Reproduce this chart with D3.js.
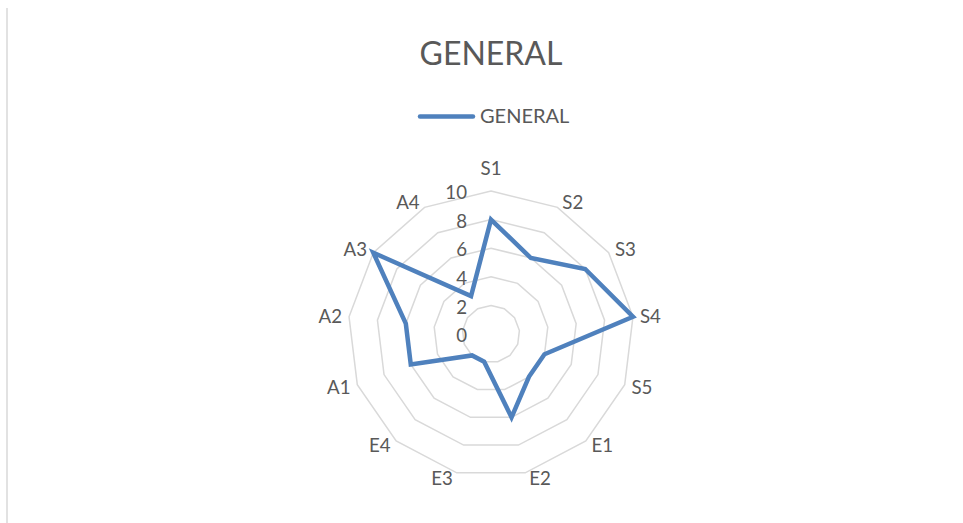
<!DOCTYPE html>
<html>
<head>
<meta charset="utf-8">
<script src="https://cdn.jsdelivr.net/npm/d3@7"></script>
<style>
  html, body { margin: 0; padding: 0; background: #fff; }
  svg { display: block; font-family: Lato, "Open Sans", sans-serif; }
</style>
</head>
<body>
<svg id="chart" width="963" height="523"></svg>
<script>
const categories = ["S1", "S2", "S3", "S4", "S5", "E1", "E2", "E3", "E4", "A1", "A2", "A3", "A4"];
const generalValues = [8, 6, 8, 10, 4, 4, 6, 2, 2, 6, 6, 10, 3];
const tickValues = [0, 2, 4, 6, 8, 10];
const seriesName = "GENERAL";
const chartTitle = "GENERAL";

const svg = d3.select("#chart");
const textColour = "#595959";
const lineColour = "#4f81bd";
const gridColour = "#d9d9d9";

// frame edge on the left, like the screenshot
svg.append("line")
    .attr("x1", 7).attr("x2", 7)
    .attr("y1", 8).attr("y2", 523)
    .attr("stroke", gridColour)
    .attr("stroke-width", 1.5);

const cx = 491, cy = 334, maxR = 143;

const r = d3.scaleLinear().domain([0, 10]).range([0, maxR]);
const angle = d3.scaleBand().domain(categories).range([0, 2 * Math.PI]).paddingInner(0).paddingOuter(0).align(0);

const chartArea = svg.append("g").attr("transform", `translate(${cx},${cy})`);

// rings
const ring = v => d3.lineRadial()
    .angle(c => angle(c))
    .radius(() => r(v))
    .curve(d3.curveLinearClosed)(categories);

chartArea.selectAll(".ring")
    .data(tickValues.filter(v => v > 0))
    .join("path")
    .attr("class", "ring")
    .attr("d", d => ring(d))
    .attr("fill", "none")
    .attr("stroke", gridColour)
    .attr("stroke-width", 1.5);

// radial tick labels along the first spoke
chartArea.selectAll(".tick-label")
    .data(tickValues)
    .join("text")
    .attr("class", "tick-label")
    .attr("x", -24)
    .attr("y", d => -r(d) + 1.5)
    .attr("dy", "0.36em")
    .attr("text-anchor", "end")
    .attr("fill", textColour)
    .style("font-size", "18.7px")
    .text(d => d);

// category labels
chartArea.selectAll(".cat-label")
    .data(categories)
    .join("text")
    .attr("class", "cat-label")
    .each(function (c) {
        const a = angle(c);
        const s = Math.sin(a), co = Math.cos(a);
        const vx = maxR * s, vy = -maxR * co;
        const t = d3.select(this);
        if (Math.abs(s) < 0.1) {
            t.attr("x", vx).attr("y", vy - 23).attr("text-anchor", "middle");
        } else {
            const gap = 3 + 4 * Math.abs(s);
            t.attr("x", vx + Math.sign(s) * gap)
                .attr("y", vy - 6 * co)
                .attr("text-anchor", s > 0 ? "start" : "end");
        }
    })
    .attr("dy", "0.36em")
    .attr("fill", textColour)
    .style("font-size", "18.7px")
    .text(d => d);

// series
const radarLine = d3.lineRadial()
    .angle((d, i) => angle(categories[i]))
    .radius(d => r(d))
    .curve(d3.curveLinearClosed);

chartArea.append("path")
    .datum(generalValues)
    .attr("d", radarLine)
    .attr("fill", "none")
    .attr("stroke", lineColour)
    .attr("stroke-width", 4.5)
    .attr("stroke-linejoin", "miter");

// title
svg.append("text")
    .attr("x", 491)
    .attr("y", 65)
    .attr("text-anchor", "middle")
    .attr("fill", textColour)
    .style("font-size", "32px")
    .text(chartTitle);

// legend
const legend = svg.append("g");
legend.append("line")
    .attr("x1", 420).attr("x2", 473)
    .attr("y1", 116.5).attr("y2", 116.5)
    .attr("stroke", lineColour)
    .attr("stroke-width", 4.5)
    .attr("stroke-linecap", "round");
legend.append("text")
    .attr("x", 480)
    .attr("y", 123)
    .attr("fill", textColour)
    .style("font-size", "20px")
    .text(seriesName);
</script>
</body>
</html>
